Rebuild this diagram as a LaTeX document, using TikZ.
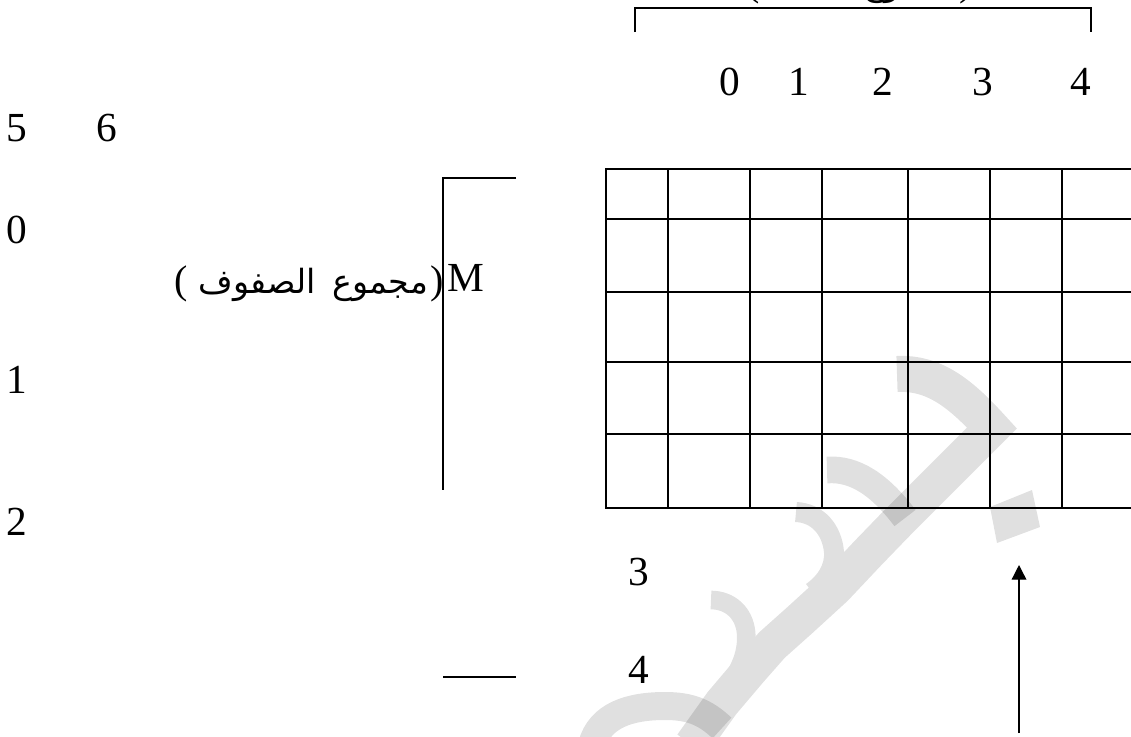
\documentclass[tikz,border=0pt]{standalone}
\usepackage{fontspec}
\setmainfont{Liberation Serif}
\newfontfamily\arabicfont[Script=Arabic]{DejaVu Sans}
\TeXXeTstate=1
\usetikzlibrary{arrows.meta}
\begin{document}
\begin{tikzpicture}[x=0.75pt,y=-0.75pt,
  gridline/.style={line width=1.3pt, line cap=rect},
  thinline/.style={line width=0.9pt},
  lbl/.style={inner sep=0pt, font=\fontsize{31}{36}\selectfont},
  arword/.style={inner sep=0pt, anchor=base, font=\fontsize{25}{30}\selectfont\arabicfont},
  paren/.style={inner sep=0pt, anchor=base, font=\fontsize{30}{36}\selectfont},
  wmbase/.style={draw=black!12, line cap=butt},
  wmover/.style={draw=black, draw opacity=0.12, line cap=butt},
  arrowline/.style={line width=1pt, -{Triangle[length=11pt,width=11pt]}},
]
\useasboundingbox (0,0) rectangle (1131,736);
\begin{scope}
\clip (0,0) rectangle (1131,736);
% watermark
\draw[wmbase, line width=27pt, line join=miter] (897,374) .. controls (935,372) and (962,395) .. (992,428) -- (895,525);
\draw[wmbase, line width=27pt, line join=round] (897,523) -- (868,553) -- (835,588) -- (800,620) -- (772,645) -- (750,670) -- (722,703) -- (692,745);
\draw[wmbase, line width=15pt] (796,512) .. controls (818,513) and (832,530) .. (834,552) .. controls (835,568) and (826,582) .. (812,592);
\draw[wmbase, line width=14pt] (711,600) .. controls (730,600) and (744,613) .. (746,632) .. controls (748,652) and (740,670) .. (728,686);
\fill[black!12] (990,507) -- (1032,490) -- (1040,527) -- (997,543) -- cycle;
\draw[wmover, line width=20pt] (827,470) .. controls (855,468) and (880,485) .. (905,518);
\draw[wmover, line width=21pt] (592,745) .. controls (600,715) and (630,706) .. (665,706) .. controls (690,706) and (705,712) .. (722,728);
% grid
\foreach \x in {606,668,750,822,908,990,1062} \draw[gridline] (\x,169) -- (\x,508);
\foreach \y in {169,219,292,362,434,508} \draw[gridline] (606,\y) -- (1140,\y);
% top cut-off label: (مجموع الأعمدة )
\node[paren] (colparL) at (753,-5) {(};
\node[arword] (colwordB) at (810,-5) {\beginR الأعمدة\endR};
\node[arword] (colwordA) at (912,-5) {\beginR مجموع\endR};
\node[paren] (colparR) at (966,-5) {)};
\end{scope}
% brackets
\draw[thinline] (635,32) -- (635,8) -- (1091,8) -- (1091,32);
\draw[thinline] (516,178) -- (443,178) -- (443,490);
\draw[thinline] (443,677) -- (516,677);
% labels
\node[lbl] (c0) at (730,82) {0};
\node[lbl] (c1) at (799,82) {1};
\node[lbl] (c2) at (883,82) {2};
\node[lbl] (c3) at (983,82) {3};
\node[lbl] (c4) at (1081,82) {4};
\node[lbl] (n5) at (17,128) {5};
\node[lbl] (n6) at (107,128) {6};
\node[lbl] (r0) at (17,230) {0};
\node[lbl] (r1) at (17,380) {1};
\node[lbl] (r2) at (17,522) {2};
\node[lbl] (r3) at (639,572) {3};
\node[lbl] (r4) at (639,670) {4};
\node[lbl] (m) at (466,278) {M};
% row label: (مجموع الصفوف )
\node[paren] (rowparL) at (181,293) {(};
\node[arword] (rowwordB) at (257,293) {\beginR الصفوف\endR};
\node[arword] (rowwordA) at (380,293) {\beginR مجموع\endR};
\node[paren] (rowparR) at (437,293) {)};
% arrow
\coordinate (arrowfoot) at (1019,733);
\coordinate (arrowtip) at (1019,565);
\draw[arrowline] (arrowfoot) -- (arrowtip);
\end{tikzpicture}
\end{document}
